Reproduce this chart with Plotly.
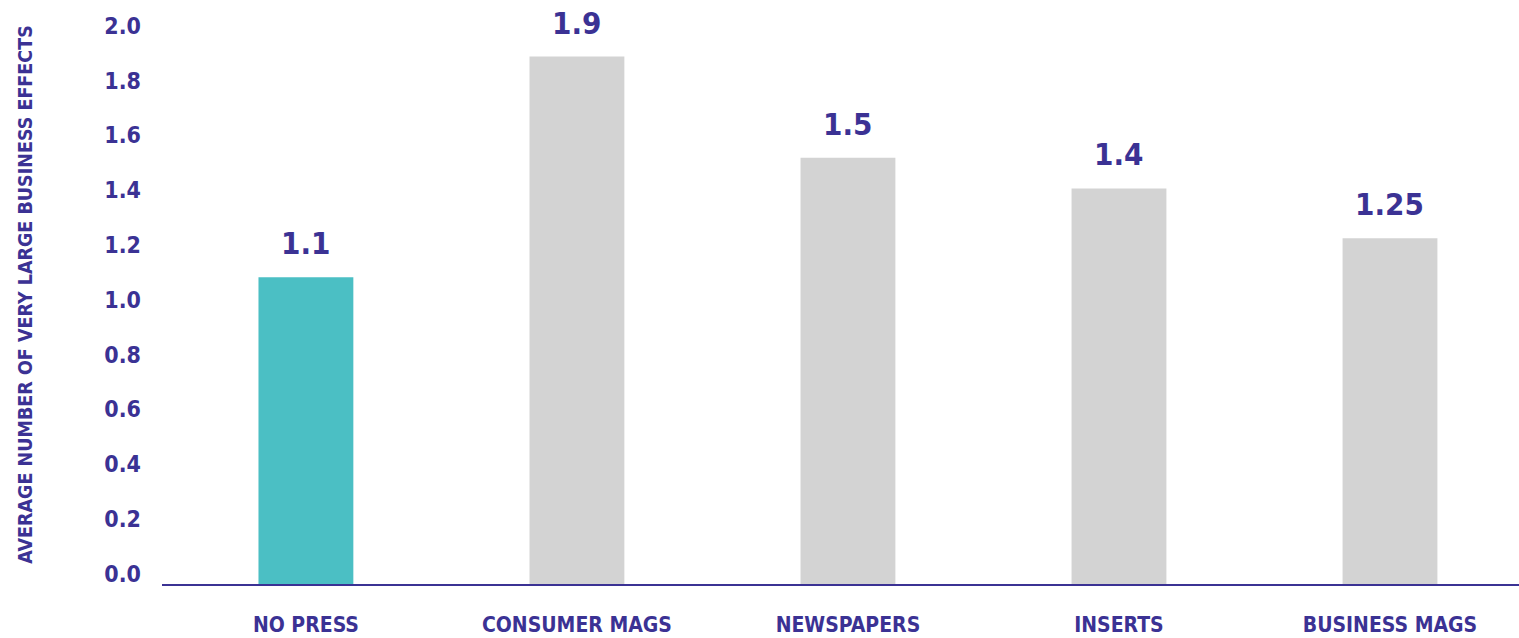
import plotly.graph_objects as go

categories = ["NO PRESS", "CONSUMER MAGS", "NEWSPAPERS", "INSERTS", "BUSINESS MAGS"]
values = [1.105, 1.9, 1.535, 1.425, 1.245]
value_labels = ["1.1", "1.9", "1.5", "1.4", "1.25"]
bar_colors = ["#4bbfc4", "#d3d3d3", "#d3d3d3", "#d3d3d3", "#d3d3d3"]
y_ticks = [0.0, 0.2, 0.4, 0.6, 0.8, 1.0, 1.2, 1.4, 1.6, 1.8, 2.0]
y_title = "AVERAGE NUMBER OF VERY LARGE BUSINESS EFFECTS"

PURPLE = "#3b3294"
FONT = "DejaVu Sans Condensed, Liberation Sans Narrow, sans-serif"

fig = go.Figure()
fig.add_trace(go.Bar(
    x=list(range(len(categories))), y=values,
    marker=dict(color=bar_colors, line=dict(width=0)),
    width=0.35, hoverinfo="skip",
))
# invisible helper trace so the label axis is drawn
fig.add_trace(go.Scatter(x=[0], y=[0], yaxis="y2", mode="markers",
                         marker=dict(opacity=0), hoverinfo="skip"))

for i, (v, t) in enumerate(zip(values, value_labels)):
    fig.add_annotation(x=i, y=v, text="<b>%s</b>" % t, showarrow=False,
                       yanchor="bottom", yshift=14,
                       font=dict(family=FONT, size=31, color=PURPLE))

fig.add_annotation(xref="paper", yref="paper", x=-0.1005, y=0.497,
                   xanchor="center", yanchor="middle",
                   text="<b>%s</b>" % y_title, textangle=-90, showarrow=False,
                   font=dict(family=FONT, size=19.5, color=PURPLE))

fig.update_layout(
    width=1519, height=638,
    margin=dict(l=162, r=0, t=1, b=54),
    paper_bgcolor="white", plot_bgcolor="white",
    showlegend=False,
    font=dict(family=FONT, color=PURPLE),
    xaxis=dict(
        range=[-0.531, 4.476],
        tickmode="array", tickvals=list(range(len(categories))),
        ticktext=["<b>%s</b>" % c for c in categories],
        tickfont=dict(family=FONT, size=21, color=PURPLE),
        showgrid=False, zeroline=False,
        showline=True, linecolor=PURPLE, linewidth=2,
        ticks="", ticklabelstandoff=21, automargin=False,
    ),
    yaxis=dict(
        range=[0, 2.1],
        showticklabels=False,
        showgrid=False, zeroline=False, showline=False,
        ticks="", automargin=False,
    ),
    yaxis2=dict(
        overlaying="y", side="left",
        range=[-0.037, 2.09],
        tickmode="array", tickvals=y_ticks,
        ticktext=["<b>%.1f</b>" % t for t in y_ticks],
        tickfont=dict(family=FONT, size=23, color=PURPLE),
        showgrid=False, zeroline=False, showline=False,
        ticks="", ticklabelstandoff=20, automargin=False,
    ),
)

fig.write_html("out.html")
